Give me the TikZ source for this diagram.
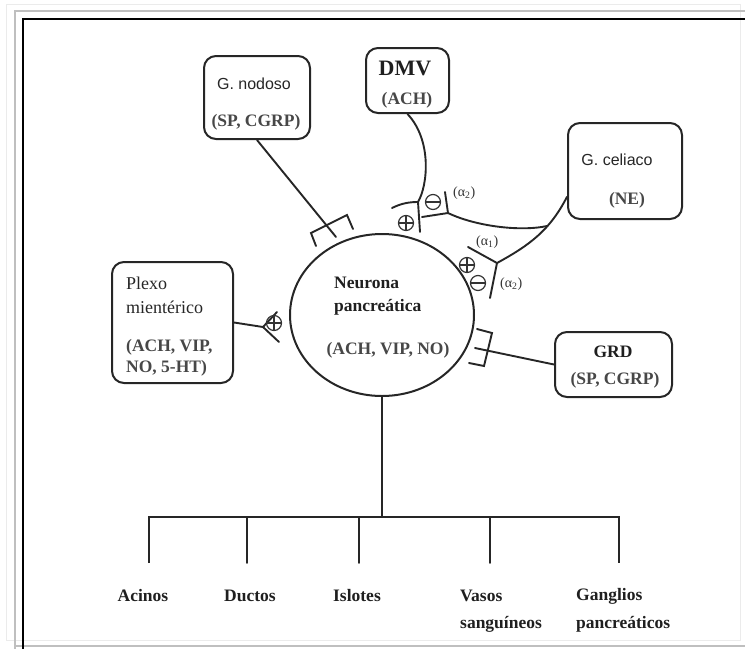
\documentclass[tikz,border=0pt]{standalone}
\usepackage{fontspec}
\setmainfont{Liberation Serif}
\newfontfamily\sansf{Liberation Sans}
\usetikzlibrary{shapes.geometric}
\begin{document}
\begin{tikzpicture}[x=1pt,y=-1pt,
  ln/.style={line width=1.9pt, draw=black!85, line cap=round},
  box/.style={draw=black!85, line width=2pt, rounded corners=12pt, inner sep=0pt},
  bt/.style={font=\fontsize{17.5}{20}\selectfont\bfseries, text=black!88, inner sep=0pt},
  gt/.style={font=\fontsize{17.5}{20}\selectfont\bfseries, text=black!72, inner sep=0pt},
  st/.style={font=\sansf\fontsize{16}{19}\selectfont, text=black!85, inner sep=0pt},
  rt/.style={font=\fontsize{18}{21}\selectfont, text=black!85, inner sep=0pt},
  al/.style={font=\fontsize{14}{16}\selectfont, text=black!80, inner sep=0pt},
  sgn/.style={circle, draw=black!80, line width=1.2pt, minimum size=15pt, inner sep=0pt},
  plusn/.style={sgn, path picture={\draw[black!80, line width=1.2pt]
     (path picture bounding box.north) -- (path picture bounding box.south)
     (path picture bounding box.west) -- (path picture bounding box.east);}},
  minusn/.style={sgn, path picture={\draw[black!80, line width=1.2pt]
     (path picture bounding box.west) -- (path picture bounding box.east);}}
]
\path[use as bounding box] (0,0) rectangle (745,649);
% frame
\draw[black!8, line width=1pt] (6,4) rectangle (740,640);
\draw[black!25, line width=1.5pt] (745,11) -- (15,11) -- (15,649);
\draw[black!25, line width=1.5pt] (15,646) -- (745,646);
\draw[black, line width=1.6pt] (745,19) -- (23,19) -- (23,649);

% neuron
\node[ellipse, draw=black!85, line width=2pt, minimum width=184, minimum height=162, inner sep=0pt] (neuron) at (382,315) {};
\node[bt, anchor=west] (nt1) at (334,283) {Neurona};
\node[bt, anchor=west] (nt2) at (334,307) {pancreática};
\node[gt] (nt3) at (388,350) {(ACH, VIP, NO)};

% boxes
\node[box, minimum width=106, minimum height=83] (nodoso) at (257,97.5) {};
\node[st] (nodosot) at (254,84) {G. nodoso};
\node[gt] (nodosop) at (256,122) {(SP, CGRP)};

\node[box, minimum width=83, minimum height=65] (dmv) at (407.5,80.5) {};
\node[bt, font=\fontsize{22}{24}\selectfont\bfseries] (dmvt) at (405,68) {DMV};
\node[gt] (dmvp) at (407,100) {(ACH)};

\node[box, minimum width=114, minimum height=96] (celiaco) at (625,171) {};
\node[st] (celt) at (617,160) {G. celiaco};
\node[gt] (celp) at (627,200) {(NE)};

\node[box, minimum width=121, minimum height=121] (plexo) at (172.5,322.5) {};
\node[rt, anchor=west] (pl1) at (126,283) {Plexo};
\node[rt, anchor=west] (pl2) at (126,307) {mientérico};
\node[gt, anchor=west] (pl3) at (126,347) {(ACH, VIP,};
\node[gt, anchor=west] (pl4) at (126,368) {NO, 5-HT)};

\node[box, minimum width=117, minimum height=65] (grd) at (613.5,364.5) {};
\node[bt] (grdt) at (613,352) {GRD};
\node[gt] (grdp) at (615,380) {(SP, CGRP)};

% G. nodoso synapse
\coordinate (nsyn) at (336,237);
\coordinate (nA) at (311,233);
\coordinate (nB) at (347,215);
\coordinate (nA2) at (316,246);
\coordinate (nB2) at (353,229);
\draw[ln] (nodoso.south) -- (nsyn);
\draw[ln] (nA2) -- (nA) -- (nB) -- (nB2);

% GRD synapse
\coordinate (gsyn) at (475,348);
\coordinate (gA) at (492,333);
\coordinate (gB) at (484,366);
\coordinate (gA2) at (477,329);
\coordinate (gB2) at (469,363);
\draw[ln] (grd.west) -- (gsyn);
\draw[ln] (gA2) -- (gA) -- (gB) -- (gB2);

% Plexo synapse
\coordinate (pv) at (263,327);
\coordinate (pu) at (277,312);
\coordinate (pd) at (279,342);
\draw[ln] (plexo.east) -- (pv);
\draw[ln] (pu) -- (pv) -- (pd);
\node[plusn] (pplus) at (274,323) {};

% DMV axon
\coordinate (dv) at (418,202);
\coordinate (dl) at (392,208);
\coordinate (dd) at (420,232);
\draw[ln] (dmv.south) .. controls (432,140) and (428,185) .. (dv);
\draw[ln] (dl) .. controls (402,203) and (410,202) .. (dv) -- (dd);
\node[plusn] (dplus) at (406,223) {};

% celiac axon
\coordinate (cv1) at (448,213);
\coordinate (cu1) at (445,192);
\coordinate (cl1) at (422,217);
\coordinate (cv2) at (497,263);
\coordinate (cu2) at (468,247);
\coordinate (cd2) at (490,298);
\draw[ln] (celiaco.204) .. controls (550,230) and (530,245) .. coordinate[pos=0.35] (cj) (cv2);
\draw[ln] (cj) .. controls (520,232) and (475,226) .. (cv1);
\draw[ln] (cu1) -- (cv1) -- (cl1);
\node[minusn] (cminus1) at (433,202) {};
\node[al, anchor=west] (a1) at (453,193) {(α\textsubscript{2})};
\draw[ln] (cu2) -- (cv2) -- (cd2);
\node[plusn] (cplus2) at (467,265) {};
\node[minusn] (cminus2) at (478,283) {};
\node[al, anchor=west] (a2) at (476,242) {(α\textsubscript{1})};
\node[al, anchor=west] (a3) at (500,284) {(α\textsubscript{2})};

% bottom tree
\coordinate (tb) at (382,517);
\coordinate (t1) at (149,517);
\coordinate (t2) at (247,517);
\coordinate (t3) at (359,517);
\coordinate (t4) at (490,517);
\coordinate (t5) at (619,517);
\coordinate (e1) at (149,563);
\coordinate (e2) at (247,563);
\coordinate (e3) at (359,563);
\coordinate (e4) at (490,563);
\coordinate (e5) at (619,563);
\draw[ln] (neuron.south) -- (tb);
\draw[ln, line cap=butt] (e1) -- (t1) -- (t5) -- (e5);
\draw[ln] (t2) -- (e2) (t3) -- (e3) (t4) -- (e4);

\node[bt] (b1) at (143,596) {Acinos};
\node[bt] (b2) at (250,596) {Ductos};
\node[bt] (b3) at (357,596) {Islotes};
\node[bt, anchor=west] (b4) at (460,596) {Vasos};
\node[bt, anchor=west] (b4b) at (460,624) {sanguíneos};
\node[bt, anchor=west] (b5) at (576,596) {Ganglios};
\node[bt, anchor=west] (b5b) at (576,624) {pancreáticos};
\end{tikzpicture}
\end{document}
